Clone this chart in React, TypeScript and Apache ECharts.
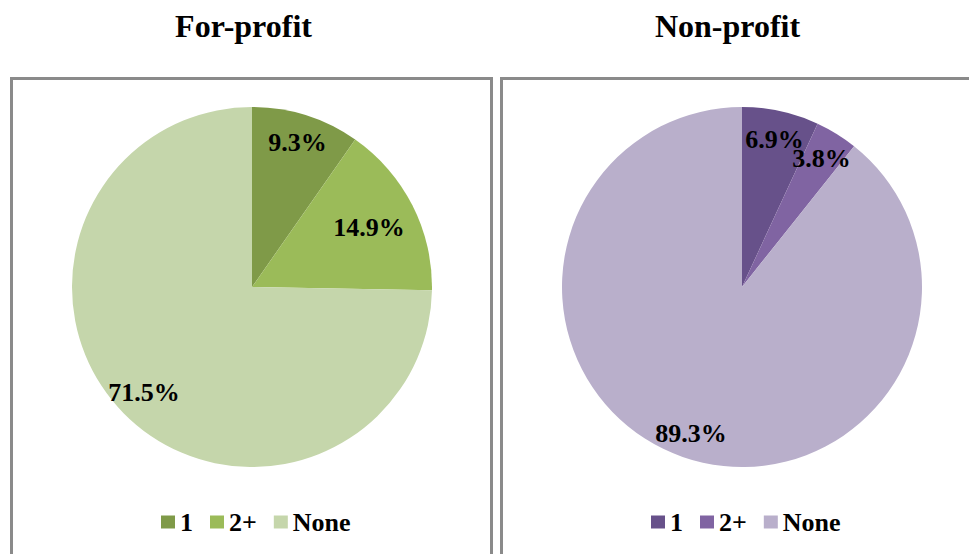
import React, { useEffect, useRef } from "react";
import * as echarts from "echarts";

const categories = ["1", "2+", "None"];
const panelTitles = ["For-profit", "Non-profit"];
const forProfitValues = [9.3, 14.9, 71.5];
const nonProfitValues = [6.9, 3.8, 89.3];
const forProfitColors = ["#7f9a48", "#9bbb59", "#c5d6ab"];
const nonProfitColors = ["#67518a", "#8064a2", "#b9afcb"];
// label distance from the centre, as a share of the radius
const forProfitLabelRadius = [0.84, 0.73, 0.84];
const nonProfitLabelRadius = [0.84, 0.84, 0.86];

const FONT = "Liberation Serif";
const R = 180;

function buildSeries(
  values: number[],
  colors: string[],
  center: [number, number],
  labelRadius: number[]
) {
  const total = values.reduce((a, b) => a + b, 0);
  const main = {
    type: "pie",
    center,
    radius: R,
    startAngle: 90,
    clockwise: true,
    silent: true,
    label: { show: false },
    labelLine: { show: false },
    emphasis: { disabled: true },
    itemStyle: { borderWidth: 0 },
    data: values.map((v, i) => ({ name: categories[i], value: v, itemStyle: { color: colors[i] } })),
  };
  const labels = {
    type: "custom",
    coordinateSystem: "none",
    silent: true,
    z: 10,
    data: values.map((v, i) => [v, i]),
    renderItem: (params: any, api: any) => {
      const idx = params.dataIndex;
      let before = 0;
      for (let k = 0; k < idx; k++) before += values[k];
      const v = api.value(0) as number;
      const mid = ((before + v / 2) / total) * Math.PI * 2;
      const r = R * labelRadius[idx];
      return {
        type: "text",
        x: center[0] + r * Math.sin(mid),
        y: center[1] - r * Math.cos(mid),
        style: {
          text: `${v}%`,
          font: `bold 26px "${FONT}"`,
          fill: "#000",
          textAlign: "center",
          textVerticalAlign: "middle",
        },
      };
    },
  };
  return [main, labels];
}

function buildLegend(colors: string[], left: number) {
  return {
    left,
    top: 509,
    padding: 0,
    orient: "horizontal",
    icon: "rect",
    itemWidth: 14,
    itemHeight: 13,
    itemGap: 17,
    selectedMode: false,
    textStyle: { fontFamily: FONT, fontWeight: "bold", fontSize: 26, color: "#000" },
    data: categories.map((c, i) => ({ name: c, itemStyle: { color: colors[i] } })),
  };
}

export default function App() {
  const ref = useRef<HTMLDivElement>(null);
  useEffect(() => {
    if (!ref.current) return;
    const chart = echarts.init(ref.current, undefined, { renderer: "svg" });
    chart.setOption({
      animation: false,
      backgroundColor: "#fff",
      graphic: [
        {
          type: "rect",
          silent: true,
          shape: { x: 11.5, y: 78.5, width: 480, height: 600 },
          style: { fill: "none", stroke: "#8a8a8a", lineWidth: 3 },
        },
        {
          type: "rect",
          silent: true,
          shape: { x: 501.5, y: 78.5, width: 600, height: 600 },
          style: { fill: "none", stroke: "#8a8a8a", lineWidth: 3 },
        },
        {
          type: "text",
          silent: true,
          x: 243.5,
          y: 26,
          style: {
            text: panelTitles[0],
            font: `bold 32px "${FONT}"`,
            fill: "#000",
            textAlign: "center",
            textVerticalAlign: "middle",
          },
        },
        {
          type: "text",
          silent: true,
          x: 727.5,
          y: 26,
          style: {
            text: panelTitles[1],
            font: `bold 32px "${FONT}"`,
            fill: "#000",
            textAlign: "center",
            textVerticalAlign: "middle",
          },
        },
      ],
      legend: [buildLegend(forProfitColors, 161), buildLegend(nonProfitColors, 651)],
      series: [
        ...buildSeries(forProfitValues, forProfitColors, [252, 287], forProfitLabelRadius),
        ...buildSeries(nonProfitValues, nonProfitColors, [742, 287], nonProfitLabelRadius),
      ],
    });
    return () => chart.dispose();
  }, []);
  return (
    <div
      ref={ref}
      style={{ position: "absolute", left: 0, top: 0, width: 969, height: 554, background: "#fff" }}
    />
  );
}
